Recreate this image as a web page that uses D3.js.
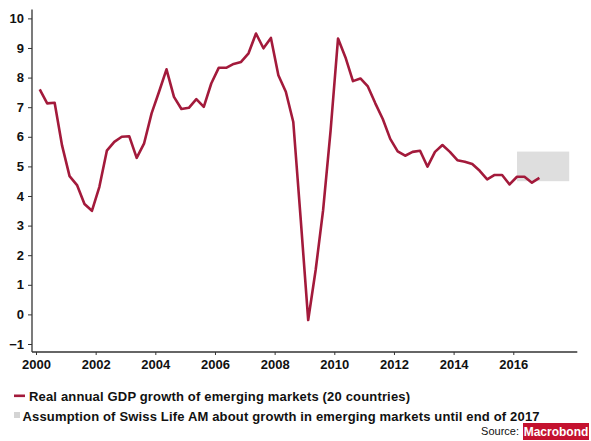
<!DOCTYPE html>
<html>
<head>
<meta charset="utf-8">
<script src="https://cdn.jsdelivr.net/npm/d3@7"></script>
<style>
  html, body { margin: 0; padding: 0; background: #fff; }
  svg { display: block; font-family: "Liberation Sans", Arial, Helvetica, sans-serif; }
</style>
</head>
<body>
<svg id="chart" width="591" height="441"></svg>
<script>
// Real annual GDP growth of emerging markets, quarterly from 2000 Q1 (in %)
const firstYear = 2000;
const gdpGrowth = [
  7.60, 7.13, 7.15, 5.70, 4.67, 4.37, 3.73, 3.50,
  4.31, 5.53, 5.83, 6.00, 6.02, 5.29, 5.78, 6.79,
  7.52, 8.28, 7.35, 6.94, 6.98, 7.27, 7.01, 7.80,
  8.33, 8.33, 8.46, 8.53, 8.82, 9.49, 8.99, 9.34,
  8.08, 7.52, 6.50, 3.20, -0.19, 1.50, 3.52, 6.20,
  9.32, 8.68, 7.88, 7.97, 7.70, 7.13, 6.60, 5.93,
  5.51, 5.36, 5.49, 5.53, 4.99, 5.49, 5.72, 5.49,
  5.21, 5.16, 5.08, 4.85, 4.56, 4.71, 4.71, 4.39,
  4.65, 4.65, 4.45, 4.61
];

// Assumed growth band until end of 2017
const assumptionPeriod = [2016.125, 2017.875];
const assumptionRange = [4.5, 5.5];

const yTicks = [-1, 0, 1, 2, 3, 4, 5, 6, 7, 8, 9, 10];
const xTicks = [2000, 2002, 2004, 2006, 2008, 2010, 2012, 2014, 2016];

const legendLabels = [
  "Real annual GDP growth of emerging markets (20 countries)",
  "Assumption of Swiss Life AM about growth in emerging markets until end of 2017"
];

const lineColor = "#a31a3b";
const bandColor = "#dedede";
const axisColor = "#333333";

const svg = d3.select("#chart");

const x = d3.scaleLinear().domain([1999.866, 2018.146]).range([32, 577.3]);
const y = d3.scaleLinear().domain([-1.27, 10.3]).range([352, 9.5]);

const points = gdpGrowth.map((v, i) => ({ t: firstYear + i / 4 + 0.125, v }));

// Assumption band
svg.append("rect")
  .attr("x", x(assumptionPeriod[0]))
  .attr("y", y(assumptionRange[1]))
  .attr("width", x(assumptionPeriod[1]) - x(assumptionPeriod[0]))
  .attr("height", y(assumptionRange[0]) - y(assumptionRange[1]))
  .attr("fill", bandColor);

// Y axis
const yAxis = svg.append("g")
  .attr("transform", "translate(32,0)")
  .call(d3.axisLeft(y).tickValues(yTicks).tickSize(4).tickPadding(4).tickFormat(d3.format("d")));
yAxis.select(".domain").attr("d", `M0,${y.range()[1]}V${y.range()[0]}`);

// X axis
const xAxis = svg.append("g")
  .attr("transform", "translate(0,352)")
  .call(d3.axisBottom(x).tickValues(xTicks).tickSize(3).tickPadding(5).tickFormat(d3.format("d")));
xAxis.select(".domain").attr("d", `M${x.range()[0]},0H${x.range()[1]}`);

[yAxis, xAxis].forEach(g => {
  g.select(".domain").attr("stroke", axisColor).attr("stroke-width", 1.3);
  g.selectAll(".tick line").attr("stroke", axisColor).attr("stroke-width", 1);
  g.selectAll(".tick text")
    .attr("fill", "#111")
    .attr("font-family", "'Liberation Sans', Arial, sans-serif")
    .attr("font-weight", "bold")
    .attr("font-size", 13);
});

// GDP growth line
svg.append("path")
  .datum(points)
  .attr("fill", "none")
  .attr("stroke", lineColor)
  .attr("stroke-width", 2.6)
  .attr("stroke-linejoin", "round")
  .attr("d", d3.line().x(d => x(d.t)).y(d => y(d.v)));

// Legend
const legend = svg.append("g")
  .attr("font-family", "'Liberation Sans', Arial, sans-serif")
  .attr("font-weight", "bold")
  .attr("font-size", 13)
  .attr("fill", "#111");

legend.append("rect").attr("x", 14).attr("y", 394.5).attr("width", 11).attr("height", 2.6).attr("fill", lineColor);
legend.append("text").attr("x", 29).attr("y", 401).attr("textLength", 381).text(legendLabels[0]);

legend.append("rect").attr("x", 14).attr("y", 412).attr("width", 6).attr("height", 6).attr("fill", "#d4d4d4");
legend.append("text").attr("x", 22.5).attr("y", 421).attr("textLength", 517).text(legendLabels[1]);

// Source note
svg.append("text")
  .attr("x", 519).attr("y", 435)
  .attr("text-anchor", "end")
  .attr("font-family", "'Liberation Sans', Arial, sans-serif")
  .attr("font-size", 11)
  .attr("fill", "#111")
  .text("Source:");

svg.append("rect").attr("x", 523).attr("y", 423).attr("width", 66).attr("height", 17).attr("fill", "#c4122f");
svg.append("text")
  .attr("x", 556).attr("y", 435.5)
  .attr("text-anchor", "middle")
  .attr("font-family", "'Liberation Sans', Arial, sans-serif")
  .attr("font-weight", "bold")
  .attr("font-size", 12)
  .attr("fill", "#fff")
  .text("Macrobond");
</script>
</body>
</html>
